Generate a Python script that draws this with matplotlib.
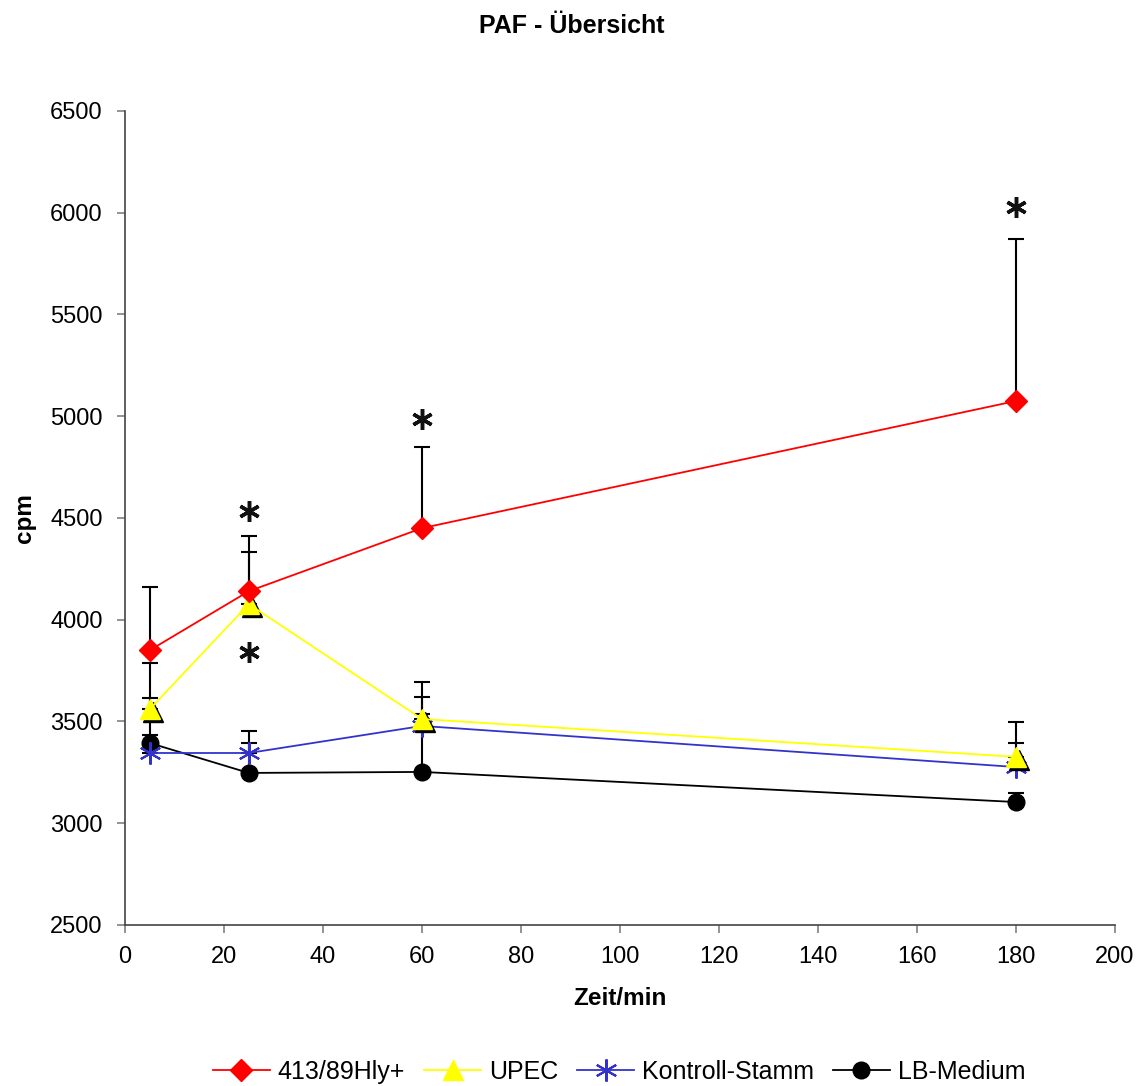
import numpy as np
import matplotlib.pyplot as plt
from matplotlib import transforms

plt.rcParams['font.family'] = ['Liberation Sans', 'DejaVu Sans']

# Messzeitpunkte (min)
zeit = [5, 25, 60, 180]

# Mittelwerte cpm
hly = [3850, 4140, 4450, 5075]
upec = [3560, 4077, 3512, 3326]
kontrolle = [3345, 3345, 3478, 3276]
lb = [3394, 3247, 3252, 3104]

# Standardabweichung (nur nach oben)
hly_err = [311, 272, 399, 796]
upec_err = [227, 256, 182, 171]
kontrolle_err = [271, 108, 60, 118]
lb_err = [40, 147, 368, 45]

# Signifikanz-Sterne (x, y)
stern_x = [25, 25, 60, 180]
stern_y = [4535, 3842, 4985, 6030]

fig = plt.figure(figsize=(11.44, 10.86), dpi=100)
ax = fig.add_axes([0.1093, 0.1483, 0.8654, 0.7495])

err_kw = dict(fmt='none', ecolor='black', elinewidth=1.5, capsize=6, capthick=1.5)
for y, e in [(lb, lb_err), (kontrolle, kontrolle_err), (upec, upec_err), (hly, hly_err)]:
    ax.errorbar(zeit, y, yerr=[np.zeros(len(e)), e], zorder=2, **err_kw)

ax.plot(zeit, lb, color='black', lw=1.3, marker='o', ms=12, zorder=3, label='LB-Medium')
ax.plot(zeit, kontrolle, color='#3333cc', lw=1.3, marker=(6, 2, 0), ms=16, mew=1.5,
        zorder=4, label='Kontroll-Stamm')
# schwarzer Schatten hinter den gelben Dreiecken
schatten = transforms.offset_copy(ax.transData, fig=fig, x=2, y=-2, units='points')
ax.plot(zeit, upec, color='black', lw=0, marker='^', ms=15, transform=schatten, zorder=5)
ax.plot(zeit, upec, color='#ffff00', lw=1.3, marker='^', ms=15, zorder=6, label='UPEC')
ax.plot(zeit, hly, color='#ff0000', lw=1.3, marker='D', ms=11, zorder=7, label='413/89Hly+')

# Signifikanz-Sterne als sechsarmige Marker
ax.plot(stern_x, stern_y, lw=0, marker=(6, 2, 0), ms=15, mew=2.5, color='#111111',
        zorder=8)

ax.set_xlim(0, 200)
ax.set_ylim(2500, 6500)
ax.set_xticks(np.arange(0, 201, 20))
ax.set_yticks(np.arange(2500, 6501, 500))
ax.spines['top'].set_visible(False)
ax.spines['right'].set_visible(False)
for s in ['left', 'bottom']:
    ax.spines[s].set_color('#444444')
    ax.spines[s].set_linewidth(1.2)
ax.tick_params(labelsize=17, length=6, color='#808080', width=1.2)
ax.tick_params(axis='x', pad=9)
ax.tick_params(axis='y', pad=10)

ax.set_xlabel('Zeit/min', fontsize=17.5, fontweight='bold', labelpad=14)
ax.set_ylabel('cpm', fontsize=17.5, fontweight='bold', labelpad=10)
fig.suptitle('PAF - Übersicht', fontsize=18, fontweight='bold', y=0.987)

handles, labels = ax.get_legend_handles_labels()
order = [3, 2, 1, 0]
fig.legend([handles[i] for i in order], [labels[i] for i in order],
           loc='center', bbox_to_anchor=(0.541, 0.013), ncol=4, frameon=False,
           fontsize=18, handlelength=2.3, handletextpad=0.3, columnspacing=0.75,
           borderpad=0.1)

fig.savefig('out.png', dpi=100)
